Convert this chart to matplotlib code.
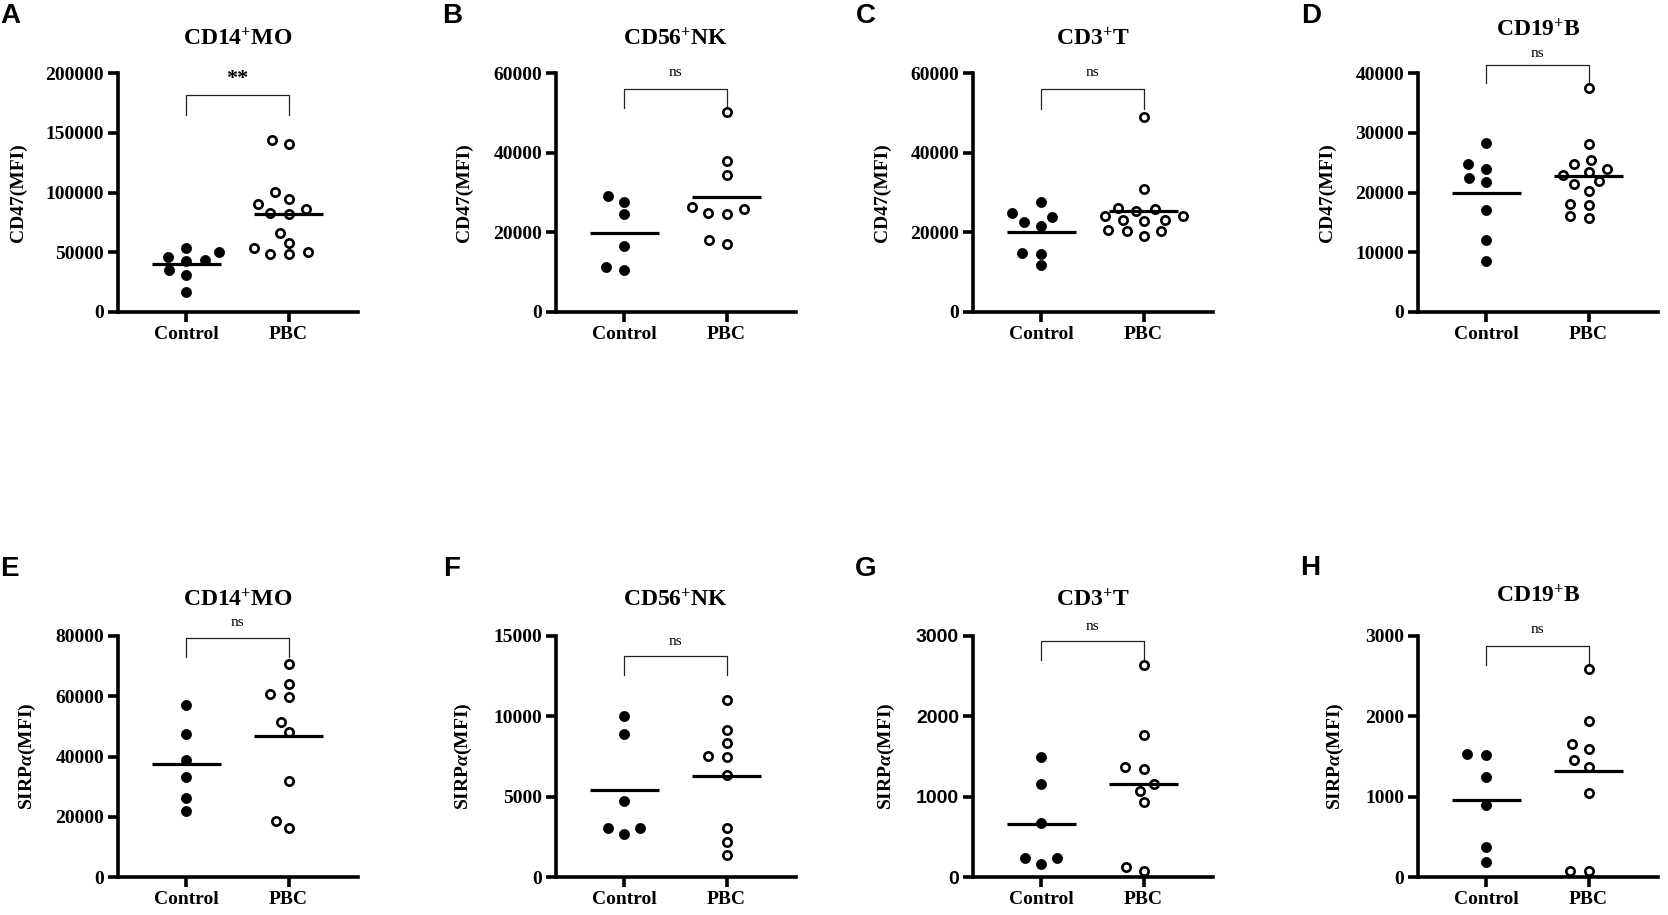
import numpy as np
import matplotlib
matplotlib.use("Agg")
import matplotlib.pyplot as plt
from matplotlib.ticker import StrMethodFormatter

plt.rcParams["font.family"] = ["Liberation Serif", "DejaVu Serif"]
plt.rcParams["mathtext.fontset"] = "custom"
plt.rcParams["mathtext.rm"] = "Liberation Serif:bold"
plt.rcParams["mathtext.it"] = "Liberation Serif:italic:bold"
plt.rcParams["mathtext.bf"] = "Liberation Serif:bold"

groups = ["Control", "PBC"]
cells = [("CD14", "MO"), ("CD56", "NK"), ("CD3", "T"), ("CD19", "B")]
markers_txt = ["CD47", "SIRP$\\alpha$"]
panel_letters = ["A", "B", "C", "D", "E", "F", "G", "H"]

# values (MFI)
cd47_mo_control = [49900, 43400, 46300, 53300, 42900, 35000, 30700, 16600]
cd47_mo_pbc = [143900, 140200, 100700, 94500, 90300, 86000, 81800, 83200,
               66000, 57800, 48500, 53300, 48500, 49900]
cd47_nk_control = [27500, 29000, 24600, 16600, 10500, 11400]
cd47_nk_pbc = [50100, 37900, 34400, 24800, 26300, 24600, 25800, 17100, 18100]
cd47_t_control = [27700, 23800, 24800, 22600, 21500, 14900, 14500, 11700]
cd47_t_pbc = [48900, 30800, 26100, 25800, 25300, 24000, 24000, 23000, 23000,
              22800, 20500, 20300, 19200, 20300]
cd47_b_control = [28300, 24700, 24000, 22500, 21700, 17000, 12100, 8600]
cd47_b_pbc = [37500, 28100, 24700, 25500, 24000, 23500, 21900, 22900, 21400,
              20300, 17900, 18100, 15700, 16100]

sirpa_mo_control = [57200, 47600, 38900, 33300, 26100, 21900]
sirpa_mo_pbc = [70800, 64200, 60600, 59800, 51300, 48000, 32000, 16100, 18700]
sirpa_nk_control = [10040, 8920, 4750, 2670, 3020, 3020]
sirpa_nk_pbc = [11000, 9170, 8330, 7500, 7560, 6350, 3020, 2190, 1400]
sirpa_t_control = [1496, 1157, 677, 159, 238, 238]
sirpa_t_pbc = [2633, 1764, 1366, 1350, 1157, 1066, 932, 71, 125]
sirpa_b_control = [1521, 1529, 1241, 892, 370, 185]
sirpa_b_pbc = [2591, 1942, 1661, 1599, 1455, 1372, 1041, 80, 80]

y_max = [200000, 60000, 60000, 40000, 80000, 15000, 3000, 3000]
y_step = [50000, 20000, 20000, 10000, 20000, 5000, 1000, 1000]
signif = ["**", "ns", "ns", "ns", "ns", "ns", "ns", "ns"]

all_data = [
    (cd47_mo_control, cd47_mo_pbc), (cd47_nk_control, cd47_nk_pbc),
    (cd47_t_control, cd47_t_pbc), (cd47_b_control, cd47_b_pbc),
    (sirpa_mo_control, sirpa_mo_pbc), (sirpa_nk_control, sirpa_nk_pbc),
    (sirpa_t_control, sirpa_t_pbc), (sirpa_b_control, sirpa_b_pbc),
]

# layout (pixels of the 1668x915 figure / axes fractions)
W, H = 1668, 915
ax_left = [118, 556, 973, 1418]
ax_w = 240
row_box = [(312, 239), (877, 241)]   # (bottom px, height px)
letter_xy = [(10, 16), (452, 16), (866, 16), (1311, 16),
             (9, 569), (452, 569), (866, 569), (1310, 568)]
title_y = [1.145, 1.145, 1.145, 1.18, 1.15, 1.15, 1.15, 1.165]
bracket = [(0.91, 0.826), (0.934, 0.855), (0.934, 0.85), (1.033, 0.958),
           (0.992, 0.913), (0.917, 0.838), (0.979, 0.90), (0.959, 0.881)]
sig_y = [0.975, 1.0, 1.0, 1.08, 1.054, 0.979, 1.041, 1.025]
ylab_x = [-0.38, -0.345, -0.34, -0.34, -0.333, -0.34, -0.317, -0.30]


def swarm(values, ymax, ypx, xpx=102.0, dx=18.5, dy=11.0):
    v = np.asarray(values, float)
    ys = v * ypx / ymax
    placed = []
    offs = np.zeros(len(v))
    cands = sorted(np.arange(-60.0, 61.0, 1.0), key=lambda c: (abs(c), c))
    for i in np.argsort(v):
        for c in cands:
            if all(((c - px) / dx) ** 2 + ((ys[i] - py) / dy) ** 2 >= 1
                   for px, py in placed):
                break
        placed.append((c, ys[i]))
        offs[i] = c / xpx
    return offs


fig = plt.figure(figsize=(W / 100, H / 100), dpi=100)

for k in range(8):
    row, col = divmod(k, 4)
    bpx, hpx = row_box[row]
    ax = fig.add_axes([ax_left[col] / W, 1 - bpx / H, ax_w / W, hpx / H])
    ctrl, pbc = all_data[k]

    for gi, vals in enumerate([ctrl, pbc]):
        xs = gi + swarm(vals, y_max[k], hpx)
        if gi == 0:
            ax.plot(xs, vals, "o", ms=7.3, mfc="black", mec="black", mew=0.5,
                    clip_on=False, zorder=3)
        else:
            ax.plot(xs, vals, "o", ms=6.0, mfc="white", mec="black", mew=1.9,
                    clip_on=False, zorder=3)
        ax.hlines(np.mean(vals), gi - 0.34, gi + 0.34, color="black", lw=2.3,
                  zorder=4)

    ax.set_xlim(-0.67, 1.68)
    ax.set_ylim(0, y_max[k])
    ax.set_xticks([0, 1])
    ax.set_xticklabels(groups, fontsize=14, fontweight="bold")
    ax.set_yticks(np.arange(0, y_max[k] + 1, y_step[k]))
    ax.yaxis.set_major_formatter(StrMethodFormatter("{x:.0f}"))
    for lab in ax.get_yticklabels():
        lab.set_fontsize(14)
        lab.set_fontweight("bold")
        if k == 6:
            lab.set_family("Liberation Sans")
    for s in ["top", "right"]:
        ax.spines[s].set_visible(False)
    for s in ["left", "bottom"]:
        ax.spines[s].set_linewidth(2.6)
        ax.spines[s].set_capstyle("projecting")
    ax.tick_params(length=7, width=2.6, pad=3)

    mk = markers_txt[row]
    ax.set_ylabel(mk + "(MFI)", fontsize=14, fontweight="bold")
    ax.yaxis.set_label_coords(ylab_x[k], 0.5)

    c1, c2 = cells[col]
    ax.text(0.5, title_y[k], c1 + "$^{+}$" + c2, transform=ax.transAxes,
            ha="center", va="center", fontsize=17, fontweight="bold")

    top, leg = bracket[k]
    tr = ax.get_xaxis_transform()
    ax.plot([0, 0, 1, 1], [leg, top, top, leg], color="#222222", lw=0.9,
            transform=tr, clip_on=False)
    if signif[k] == "**":
        ax.text(0.5, sig_y[k], "**", transform=tr, ha="center", va="center",
                fontsize=16, fontweight="bold")
    else:
        ax.text(0.5, sig_y[k], "ns", transform=tr, ha="center", va="center",
                fontsize=11, fontweight="normal")

for k, (lx, ly) in enumerate(letter_xy):
    fig.text(lx / W, 1 - ly / H, panel_letters[k], ha="center", va="center",
             fontsize=20, fontweight="bold", family="Liberation Sans")

fig.savefig("out.png", dpi=100)
